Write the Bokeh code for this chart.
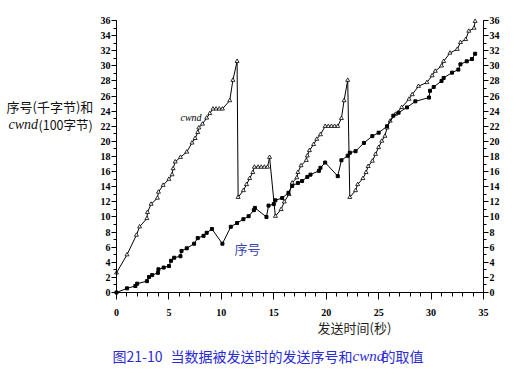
from bokeh.plotting import figure
from bokeh.models import LinearAxis, FixedTicker, Label, Range1d
from bokeh.embed import file_html
from bokeh.resources import INLINE

# cwnd series (time in s, value in 100 bytes)
cwnd_t = [0, 1.0, 1.9, 2.2, 2.9, 2.95, 3.3, 3.9, 4.0, 4.45,
          5.0, 5.3, 5.4, 5.6, 6.1, 6.7, 7.2, 7.5, 7.75, 7.85,
          8.2, 8.6, 8.9, 9.2, 9.5, 9.8, 10.1, 10.8, 11.1, 11.5,
          11.6, 12.1, 12.4, 12.7, 13.0, 13.15, 13.5, 13.8, 14.1, 14.4,
          14.6, 15.15, 15.7, 16.0, 16.45, 16.75, 17.2, 17.3, 17.6, 18.1,
          18.2, 18.4, 18.8, 19.1, 19.45, 19.9, 20.2, 20.5, 20.8, 21.1,
          21.45, 21.7, 22.05, 22.25, 22.8, 23.0, 23.5, 23.8, 24.0, 24.4,
          24.7, 25.0, 25.3, 25.6, 25.8, 26.1, 26.6, 27.2, 27.9, 28.2,
          28.8, 29.6, 30.1, 30.4, 31.0, 31.2, 31.8, 32.5, 32.8, 33.3,
          33.6, 34.1, 34.2]
cwnd_v = [2.6, 5.0, 7.6, 8.7, 9.8, 10.6, 11.7, 12.5, 13.3, 14.2,
          15.0, 15.6, 16.4, 17.3, 17.9, 18.6, 19.8, 20.4, 21.2, 21.8,
          22.3, 23.1, 23.7, 24.3, 24.3, 24.3, 24.3, 25.4, 28.1, 30.6,
          12.6, 13.5, 14.3, 15.1, 15.9, 16.6, 16.6, 16.6, 16.6, 16.6,
          17.9, 10.1, 11.0, 12.0, 13.0, 14.5, 15.2, 15.9, 16.8, 17.5,
          18.1, 18.8, 19.6, 20.3, 20.9, 22.0, 22.0, 22.0, 22.0, 22.0,
          23.05, 25.4, 28.1, 12.6, 13.5, 14.3, 15.1, 15.9, 16.7, 17.4,
          18.3, 19.2, 20.05, 20.7, 21.8, 22.7, 23.6, 24.5, 25.6, 26.2,
          27.3, 27.8, 28.7, 29.3, 30.0, 30.6, 31.7, 32.2, 33.1, 33.5,
          34.6, 35.0, 35.9]

# send sequence number series (kilobytes)
seq_t = [0, 1.0, 1.8, 1.97, 2.9, 3.1, 3.4, 3.95, 4.0, 4.5,
         5.0, 5.2, 5.5, 6.1, 6.2, 6.7, 7.4, 7.75, 8.3, 8.6,
         9.1, 10.1, 10.9, 11.5, 12.1, 12.6, 13.1, 13.2, 14.3, 14.5,
         15.0, 15.15, 15.8, 16.4, 16.75, 17.3, 17.7, 18.2, 18.5, 19.3,
         19.45, 19.9, 21.1, 21.45, 22.05, 22.25, 22.8, 23.6, 24.4, 25.0,
         25.8, 26.4, 26.9, 27.7, 28.5, 29.8, 29.9, 30.25, 31.0, 31.2,
         32.0, 32.6, 32.8, 33.4, 33.9, 34.2]
seq_v = [0, 0.55, 0.86, 1.17, 1.5, 2.05, 2.3, 2.6, 3.07, 3.3,
         3.5, 4.2, 4.6, 4.8, 5.5, 5.85, 6.46, 7.2, 7.5, 7.9,
         8.4, 6.46, 8.7, 9.2, 9.7, 10.1, 10.9, 11.2, 10.0, 11.5,
         11.7, 12.2, 12.5, 13.2, 14.1, 14.5, 14.75, 15.3, 15.6, 16.1,
         16.5, 17.2, 15.4, 17.5, 18.1, 18.5, 18.7, 19.8, 20.7, 21.15,
         22.0, 23.4, 23.8, 24.5, 25.3, 25.8, 26.7, 27.2, 28.0, 28.4,
         29.1, 29.5, 30.2, 30.6, 30.9, 31.6]

x_ticks = [0, 5, 10, 15, 20, 25, 30, 35]
y_ticks = list(range(0, 37, 2))

CJK = "Noto Sans CJK SC"
SERIF = "Liberation Serif"
BLUE = "#2a2ad8"

# page layout (pixels) of the drawing box (0..35 s, 0..36)
W, H = 529, 374
BOX_L, BOX_R, BOX_T, BOX_B = 116, 483, 20, 292
XMAX, YMAX = 35, 36
kx = XMAX / (BOX_R - BOX_L)
ky = YMAX / (BOX_B - BOX_T)

def dx(px):
    return (px - BOX_L) * kx
def dy(py):
    return (BOX_B - py) * ky

p = figure(width=W, height=H, x_range=Range1d(dx(0), dx(W)), y_range=Range1d(dy(H), dy(0)),
           output_backend="svg", toolbar_location=None,
           min_border_left=0, min_border_right=0, min_border_top=0, min_border_bottom=0)
p.outline_line_color = None
p.xgrid.visible = False
p.ygrid.visible = False
p.background_fill_color = "white"
p.border_fill_color = "white"

right = LinearAxis()
p.add_layout(right, "right")

p.xaxis[0].ticker = FixedTicker(ticks=x_ticks, minor_ticks=list(range(0, XMAX + 1)))
p.xaxis[0].bounds = (0, XMAX)
p.xaxis[0].fixed_location = 0
for ax, loc in [(p.yaxis[0], 0), (right, XMAX)]:
    ax.ticker = FixedTicker(ticks=y_ticks, minor_ticks=list(range(0, YMAX + 1)))
    ax.bounds = (0, YMAX)
    ax.fixed_location = loc

for ax in [p.xaxis[0], p.yaxis[0], right]:
    ax.axis_line_color = "black"
    ax.axis_line_width = 1
    ax.major_tick_line_color = "black"
    ax.minor_tick_line_color = "black"
    ax.major_tick_in = 0
    ax.minor_tick_in = 0
    ax.major_tick_out = 5
    ax.minor_tick_out = 3
    ax.major_label_text_font = SERIF
    ax.major_label_text_font_style = "bold"
    ax.major_label_text_font_size = "10px"
    ax.major_label_text_color = "black"
    ax.major_label_standoff = 1
p.xaxis[0].major_tick_out = 7
p.xaxis[0].minor_tick_out = 4
p.xaxis[0].major_label_standoff = 9

p.line(cwnd_t, cwnd_v, line_color="black", line_width=1)
p.scatter(cwnd_t, cwnd_v, marker="triangle", size=4, fill_color="white",
          line_color="black", line_width=0.8)
p.line(seq_t, seq_v, line_color="black", line_width=1)
p.scatter(seq_t, seq_v, marker="square", size=3, fill_color="black", line_color="black")

def lab(px, py, text, font=CJK, size="14px", style="normal", color="black", align="left"):
    p.add_layout(Label(x=dx(px), y=dy(py), text=text, text_font=font, text_font_size=size,
                       text_font_style=style, text_color=color, text_align=align,
                       text_baseline="middle"))

lab(180, 117, "cwnd", font=SERIF, size="10px", style="italic")
lab(234, 248, "序号", size="13px", color="#3848b0")
lab(6, 106, "序号(千字节)和", size="13px", color="#111111")
lab(8, 124, "cwnd", font=SERIF, size="14px", style="italic", color="#111111")
lab(38, 124, "(100字节)", size="12.5px", color="#111111")
lab(354, 327, "发送时间(秒)", size="13px", color="#222222", align="center")
lab(112, 355, "图21-10", size="14px", color=BLUE)
lab(170, 355, "当数据被发送时的发送序号和", size="14px", color=BLUE)
lab(352, 355, "cwnd", font=SERIF, size="15px", style="italic", color=BLUE)
lab(381, 355, "的取值", size="14px", color=BLUE)

open("out.html", "w").write(file_html(p, INLINE))
